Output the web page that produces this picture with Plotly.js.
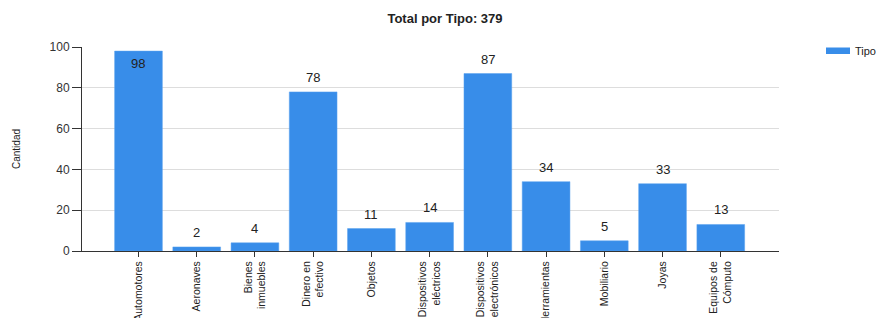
<!DOCTYPE html>
<html>
<head>
<meta charset="utf-8">
<script src="https://cdn.plot.ly/plotly-3.0.1.min.js"></script>
<style>html,body{margin:0;padding:0;background:#fff;}#chart{width:881px;height:318px;}</style>
</head>
<body>
<div id="chart"></div>
<script>
const categories = ["Automotores","Aeronaves","Bienes<br>inmuebles","Dinero en<br>efectivo","Objetos","Dispositivos<br>eléctricos","Dispositivos<br>electrónicos","Herramientas","Mobiliario","Joyas","Equipos de<br>Cómputo"];
const values = [98, 2, 4, 78, 11, 14, 87, 34, 5, 33, 13];
const seriesName = "Tipo";
const yTicks = [0, 20, 40, 60, 80, 100];

const total = values.reduce((a, b) => a + b, 0);
const W = 881, H = 318;
const mL = 82, mR = 102, mT = 47, mB = 67;
const plotW = W - mL - mR;
const px2paper = p => (p - mL) / plotW;

const annotations = categories.map((c, i) => {
  const inside = values[i] > 92;
  return {
    x: c, y: values[i], xref: 'x', yref: 'y',
    text: String(values[i]), showarrow: false,
    yanchor: inside ? 'top' : 'bottom',
    yshift: inside ? -3 : 5,
    font: {family: 'Liberation Sans, Arial, sans-serif', size: 13, color: '#222'}
  };
});
annotations.push({
  xref: 'paper', yref: 'paper', x: px2paper(853), y: 1 - (51 - mT) / (H - mT - mB),
  xanchor: 'left', yanchor: 'middle', text: seriesName, showarrow: false,
  font: {family: 'Liberation Sans, Arial, sans-serif', size: 11, color: '#222'}
});

const shapes = [{
  type: 'rect', xref: 'paper', yref: 'paper',
  x0: px2paper(826), x1: px2paper(850),
  y0: 1 - (54 - mT) / (H - mT - mB), y1: 1 - (47.5 - mT) / (H - mT - mB),
  fillcolor: '#388de9', line: {width: 0}
}];

const trace = {
  type: 'bar', x: categories, y: values, name: seriesName,
  marker: {color: '#388de9', line: {color: '#5aa2ee', width: 0.5}},
  width: 0.82, hoverinfo: 'x+y', showlegend: false
};

const layout = {
  width: W, height: H,
  margin: {l: mL, r: mR, t: mT, b: mB, pad: 0},
  paper_bgcolor: '#fff', plot_bgcolor: '#fff',
  font: {family: 'Liberation Sans, Arial, sans-serif', color: '#333'},
  title: {text: '<b>Total por Tipo: ' + total + '</b>', x: 445 / W, xanchor: 'center', y: 1 - 18 / H, yanchor: 'middle',
          font: {family: 'Liberation Sans, Arial, sans-serif', size: 13, color: '#222'}},
  showlegend: false,
  xaxis: {
    type: 'category', range: [-0.97, 11], showgrid: false, zeroline: false,
    showline: true, linecolor: '#333', linewidth: 1,
    ticks: 'outside', ticklen: 5, tickcolor: '#333',
    tickangle: -90, tickfont: {size: 10.5, color: '#222'}, automargin: false
  },
  yaxis: {
    range: [0, 100], tickvals: yTicks, showgrid: true, gridcolor: '#ddd', gridwidth: 1,
    zeroline: false, showline: true, linecolor: '#333', linewidth: 1,
    ticks: 'outside', ticklen: 9, tickcolor: '#333',
    tickfont: {size: 12, color: '#333'}, automargin: false,
    title: {text: 'Cantidad', font: {size: 10, color: '#222'}, standoff: 27}
  },
  annotations: annotations,
  shapes: shapes,
  bargap: 0.18
};

Plotly.newPlot('chart', [trace], layout, {displayModeBar: false, staticPlot: true});
</script>
</body>
</html>
